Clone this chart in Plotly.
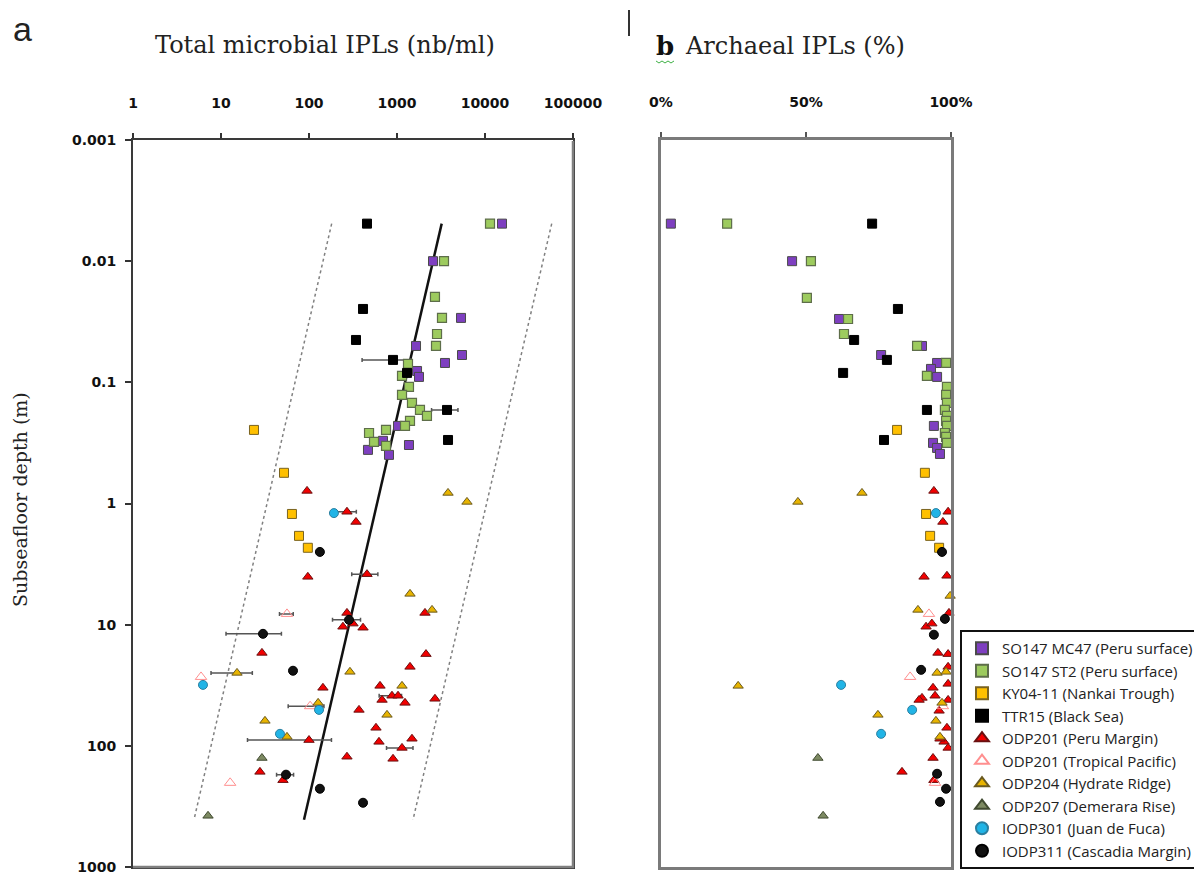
import plotly.graph_objects as go

# ---------------- data ----------------
# SO147 MC47 (Peru surface)
mc47_depth_a = [0.0049, 0.01, 0.0294, 0.0501, 0.0595, 0.0692, 0.0806, 0.0902, 0.229, 0.304, 0.329, 0.361, 0.397]
mc47_total = [15600, 2565, 5340, 1645, 5480, 3510, 1690, 1778, 1027, 693, 1368, 468, 811]
mc47_depth_b = [0.0049, 0.01, 0.030, 0.0501, 0.0595, 0.0692, 0.0775, 0.0902, 0.229, 0.316, 0.348, 0.390]
mc47_pct = [3.4, 45.2, 61.4, 90.0, 75.9, 95.2, 93.1, 95.2, 94.1, 93.8, 95.2, 96.2]

# SO147 ST2 (Peru surface)
st2_depth_a = [0.0049, 0.01, 0.0197, 0.0294, 0.0399, 0.0501, 0.0705, 0.0885, 0.109, 0.127, 0.148, 0.169,
               0.189, 0.208, 0.229, 0.247, 0.262, 0.310, 0.335]
st2_total = [11400, 3420, 2700, 3245, 2850, 2775, 1333, 1140, 1368, 1140, 1480, 1824, 2190, 1405, 1233,
             750, 481, 548, 750]
st2_depth_b = [0.0049, 0.01, 0.0201, 0.030, 0.0399, 0.0501, 0.0692, 0.0885, 0.109, 0.127, 0.148, 0.169,
               0.189, 0.208, 0.229, 0.262, 0.282, 0.316]
st2_pct = [22.8, 51.7, 50.3, 64.5, 63.1, 88.3, 98.3, 91.7, 98.6, 98.3, 98.6, 97.9, 98.6, 98.3, 98.6,
           97.9, 98.3, 98.6]

# KY04-11 (Nankai Trough)
ky_depth = [0.247, 0.558, 1.22, 1.85, 2.32]
ky_total = [23.7, 52, 64, 77, 97]
ky_pct = [81.4, 91.0, 91.4, 92.8, 95.9]

# TTR15 (Black Sea)
ttr_depth = [0.0049, 0.0248, 0.0447, 0.0653, 0.0836, 0.169, 0.299]
ttr_total = [456, 411, 342, 901, 1300, 3700, 3800]
ttr_pct = [72.8, 81.7, 66.6, 77.9, 62.8, 91.7, 76.9]

# ODP201 (Peru Margin)
peru_depth_a = [0.787, 1.17, 1.42, 4.03, 3.83, 8.0, 8.0, 10.4, 9.8, 10.6, 17.1, 17.5, 22.3, 33.2, 32.0,
                40.9, 41.8, 38.6, 38.6, 44.2, 50.5, 71.0, 92.7, 104, 87.4, 128, 123, 89.6, 164, 192]
peru_total = [95, 270, 342, 97, 456, 2080, 270, 243, 316, 411, 29.2, 2135, 1405, 144, 641,
              2700, 676, 877, 1027, 1233, 370, 577, 624, 1140, 1480, 901, 270, 100, 27.7, 50.6]
peru_depth_b = [0.787, 1.17, 1.42, 4.03, 3.95, 8.0, 10.4, 9.8, 17.1, 17.5, 22.3, 33.2, 30.8, 40.2, 38.6,
                41.8, 51.4, 41.8, 71.0, 92.7, 104, 126, 164, 87.4, 192]
peru_pct = [94.1, 99.0, 97.2, 90.7, 98.6, 99.3, 91.4, 93.4, 95.5, 99.0, 99.0, 93.8, 99.0, 90.0, 94.5,
            89.0, 95.9, 99.0, 98.6, 97.6, 99.0, 93.8, 83.1, 96.2, 94.1]

# ODP201 (Tropical Pacific)
trop_depth = [8.15, 27.0, 47.1, 202]
trop_total = [56.2, 5.93, 103, 12.7]
trop_pct = [92.4, 85.9, 97.2, 94.5]

# ODP204 (Hydrate Ridge)
hyd_depth_a = [0.818, 0.97, 5.57, 7.55, 25.0, 24.5, 32.0, 44.2, 55.5, 62.2, 84.3]
hyd_total = [3800, 6240, 1405, 2500, 15.2, 292, 1140, 127, 770, 31.6, 56.2]
hyd_depth_b = [0.97, 0.818, 5.79, 7.55, 32.0, 25.0, 24.5, 55.5, 62.2, 44.2, 84.3]
hyd_pct = [47.2, 69.3, 99.7, 88.6, 26.6, 95.2, 98.3, 74.8, 94.8, 96.9, 96.2]

# ODP207 (Demerara Rise)
dem_depth = [126, 378]
dem_total = [29.2, 7.12]
dem_pct = [54.1, 55.9]

# IODP301 (Juan de Fuca)
jdf_depth = [1.2, 31.4, 50.5, 79.6]
jdf_total = [192, 6.24, 130, 46.8]
jdf_pct = [94.8, 62.1, 86.6, 75.9]

# IODP311 (Cascadia Margin)
cas_depth_a = [2.51, 9.12, 11.9, 24.0, 173, 226, 295]
cas_total = [133, 285, 30, 65.8, 54.8, 133, 411]
cas_depth_b = [2.51, 8.96, 12.1, 23.6, 170, 226, 290]
cas_pct = [96.9, 97.9, 94.1, 89.7, 95.2, 98.3, 96.2]

# horizontal error bars (panel a)
err_depth = [0.0653, 0.169, 1.17, 3.83, 8.15, 9.12, 11.9, 25.0, 38.6, 47.1, 89.6, 104, 173]
err_total = [901, 3700, 270, 456, 56.2, 285, 30, 15.2, 877, 103, 100, 1140, 54.8]
err_size = [500, 1230, 75, 150, 10, 100, 18.6, 7.5, 250, 45, 80, 380, 12]

# regression line and envelope (panel a)
fit_depth = [0.0049, 408]
fit_total = [3220, 87.7]
fit_lo_total = [181, 4.93]
fit_hi_total = [57300, 1520]

x_ticks_a = [1, 10, 100, 1000, 10000, 100000]
x_tick_text_a = ["1", "10", "100", "1000", "10000", "100000"]
x_ticks_b = [0, 50, 100]
x_tick_text_b = ["0%", "50%", "100%"]
y_ticks = [0.001, 0.01, 0.1, 1, 10, 100, 1000]
y_tick_text = ["0.001", "0.01", "0.1", "1", "10", "100", "1000"]

# ---------------- styling ----------------
series = [
    ("SO147 MC47 (Peru surface)", mc47_depth_a, mc47_total, mc47_depth_b, mc47_pct,
     dict(symbol="square", color="#7E3FC0", size=9, line=dict(color="#4a4a4a", width=1))),
    ("SO147 ST2 (Peru surface)", st2_depth_a, st2_total, st2_depth_b, st2_pct,
     dict(symbol="square", color="#9DCB5E", size=9, line=dict(color="#5e6e4a", width=1.2))),
    ("KY04-11 (Nankai Trough)", ky_depth, ky_total, ky_depth, ky_pct,
     dict(symbol="square", color="#FFC000", size=9, line=dict(color="#7a6320", width=1))),
    ("TTR15 (Black Sea)", ttr_depth, ttr_total, ttr_depth, ttr_pct,
     dict(symbol="square", color="#000000", size=9, line=dict(color="#000000", width=1))),
    ("ODP201 (Peru Margin)", peru_depth_a, peru_total, peru_depth_b, peru_pct,
     dict(symbol="triangle-up", color="#F20000", size=9, line=dict(color="#6a1010", width=1))),
    ("ODP201 (Tropical Pacific)", trop_depth, trop_total, trop_depth, trop_pct,
     dict(symbol="triangle-up-open", color="#FF8F8F", size=10, line=dict(color="#FF8F8F", width=1))),
    ("ODP204 (Hydrate Ridge)", hyd_depth_a, hyd_total, hyd_depth_b, hyd_pct,
     dict(symbol="triangle-up", color="#E8B400", size=9, line=dict(color="#6a5a20", width=1))),
    ("ODP207 (Demerara Rise)", dem_depth, dem_total, dem_depth, dem_pct,
     dict(symbol="triangle-up", color="#7D8A62", size=9, line=dict(color="#404a30", width=1))),
    ("IODP301 (Juan de Fuca)", jdf_depth, jdf_total, jdf_depth, jdf_pct,
     dict(symbol="circle", color="#21B4E6", size=9, line=dict(color="#2a7fa0", width=1))),
    ("IODP311 (Cascadia Margin)", cas_depth_a, cas_total, cas_depth_b, cas_pct,
     dict(symbol="circle", color="#111111", size=9, line=dict(color="#000000", width=1))),
]

fig = go.Figure()

# envelope & fit lines
fig.add_trace(go.Scatter(x=fit_lo_total, y=fit_depth, mode="lines", xaxis="x", yaxis="y",
                         line=dict(color="#808080", width=1.5, dash="dot"), showlegend=False, hoverinfo="skip"))
fig.add_trace(go.Scatter(x=fit_hi_total, y=fit_depth, mode="lines", xaxis="x", yaxis="y",
                         line=dict(color="#808080", width=1.5, dash="dot"), showlegend=False, hoverinfo="skip"))
fig.add_trace(go.Scatter(x=fit_total, y=fit_depth, mode="lines", xaxis="x", yaxis="y",
                         line=dict(color="#111111", width=2.5), showlegend=False, hoverinfo="skip"))

# error bars
fig.add_trace(go.Scatter(x=err_total, y=err_depth, mode="markers", xaxis="x", yaxis="y",
                         marker=dict(size=1, color="rgba(0,0,0,0)"),
                         error_x=dict(type="data", array=err_size, symmetric=True, color="#555555",
                                      thickness=1.5, width=2),
                         showlegend=False, hoverinfo="skip"))

for i, (name, da, ta, db, pb, mk) in enumerate(series):
    fig.add_trace(go.Scatter(x=ta, y=da, mode="markers", name=name, xaxis="x", yaxis="y",
                             marker=mk, legendgroup="g%d" % i, showlegend=True, cliponaxis=False))
    fig.add_trace(go.Scatter(x=pb, y=db, mode="markers", name=name, xaxis="x2", yaxis="y2",
                             marker=mk, legendgroup="g%d" % i, showlegend=False, cliponaxis=False))

# the page body has an 8px margin: figure size and positions compensate for it
OFF = 8
W, H = 1202 - OFF, 881 - OFF


def fx(p):
    return (p - OFF) / W


def fy(p):
    return 1 - (p - OFF) / H


ydom = [fy(867), fy(140)]
tickfont = dict(family="DejaVu Sans", size=14, color="#111111", weight="bold")

fig.update_layout(
    width=W, height=H,
    margin=dict(l=0, r=0, t=0, b=0, autoexpand=False),
    paper_bgcolor="white", plot_bgcolor="white",
    showlegend=True,
    legend=dict(x=fx(960), y=fy(630), xanchor="left", yanchor="top",
                bgcolor="white", bordercolor="#111111", borderwidth=2,
                font=dict(family="Open Sans", size=15, color="#222222"),
                tracegroupgap=5.8, itemsizing="constant", traceorder="normal"),
    xaxis=dict(type="log", domain=[fx(133), fx(573)], range=[0, 5], side="top",
               tickvals=x_ticks_a, ticktext=x_tick_text_a, ticks="outside", ticklen=5,
               tickcolor="#333333", tickwidth=1.5, ticklabelstandoff=19, automargin=False,
               showgrid=False, zeroline=False, showline=True, linecolor="#3a3a3a", linewidth=2,
               mirror=True, tickfont=tickfont, anchor="y"),
    yaxis=dict(type="log", domain=ydom, range=[3, -3], tickvals=y_ticks, ticktext=y_tick_text,
               ticks="outside", ticklen=6, tickcolor="#333333", tickwidth=1.5, ticklabelstandoff=6,
               automargin=False,
               showgrid=False, zeroline=False, showline=True, linecolor="#3a3a3a", linewidth=2,
               mirror=True, tickfont=tickfont, anchor="x"),
    xaxis2=dict(domain=[fx(661), fx(951)], range=[0, 100], side="top",
                tickvals=x_ticks_b, ticktext=x_tick_text_b, ticks="outside", ticklen=5,
                tickcolor="#555555", tickwidth=1.5, ticklabelstandoff=19, automargin=False,
                showgrid=False, zeroline=False, showline=True, linecolor="#7a7a7a", linewidth=3,
                mirror=True, tickfont=tickfont, anchor="y2"),
    yaxis2=dict(type="log", domain=ydom, range=[3, -3], showticklabels=False, ticks="",
                automargin=False,
                showgrid=False, zeroline=False, showline=True, linecolor="#7a7a7a", linewidth=3,
                mirror=True, anchor="x2"),
    annotations=[
        dict(text="a", x=fx(11), y=1, xref="paper", yref="paper", xanchor="left", yanchor="top",
             showarrow=False, font=dict(family="Liberation Sans", size=34, color="#222222")),
        dict(text="Total microbial IPLs (nb/ml)", x=fx(325), y=fy(45), xref="paper", yref="paper",
             xanchor="center", yanchor="middle", showarrow=False,
             font=dict(family="DejaVu Serif", size=24, color="#222222")),
        dict(text="Subseafloor depth (m)", x=fx(20), y=fy(500), xref="paper", yref="paper",
             xanchor="center", yanchor="middle", textangle=-90, showarrow=False,
             font=dict(family="DejaVu Serif", size=19, color="#222222")),
        dict(text="<b>b</b>", x=fx(654), y=fy(46), xref="paper", yref="paper",
             xanchor="left", yanchor="middle", showarrow=False,
             font=dict(family="DejaVu Serif", size=26, color="#111111")),
        dict(text="Archaeal IPLs (%)", x=fx(683), y=fy(46), xref="paper", yref="paper",
             xanchor="left", yanchor="middle", showarrow=False,
             font=dict(family="DejaVu Serif", size=24, color="#222222")),
    ],
    shapes=[
        dict(type="line", xref="paper", yref="paper", x0=fx(629), x1=fx(629), y0=fy(10), y1=fy(36),
             line=dict(color="#333333", width=2)),
        dict(type="path", xref="paper", yref="paper",
             path="M %f %f L %f %f L %f %f L %f %f L %f %f L %f %f L %f %f" % (
                 fx(656), fy(61), fx(659), fy(63), fx(662), fy(61), fx(665), fy(63),
                 fx(668), fy(61), fx(671), fy(63), fx(674), fy(61)),
             line=dict(color="#3cb043", width=1)),
        # lighter right and bottom frame edges of panel a
        dict(type="line", xref="paper", yref="paper", x0=fx(573), x1=fx(573), y0=fy(141), y1=fy(868),
             line=dict(color="#808080", width=2.5)),
        dict(type="line", xref="paper", yref="paper", x0=fx(133), x1=fx(574), y0=fy(867), y1=fy(867),
             line=dict(color="#808080", width=2.5)),
    ],
)

fig.write_html("out.html")
